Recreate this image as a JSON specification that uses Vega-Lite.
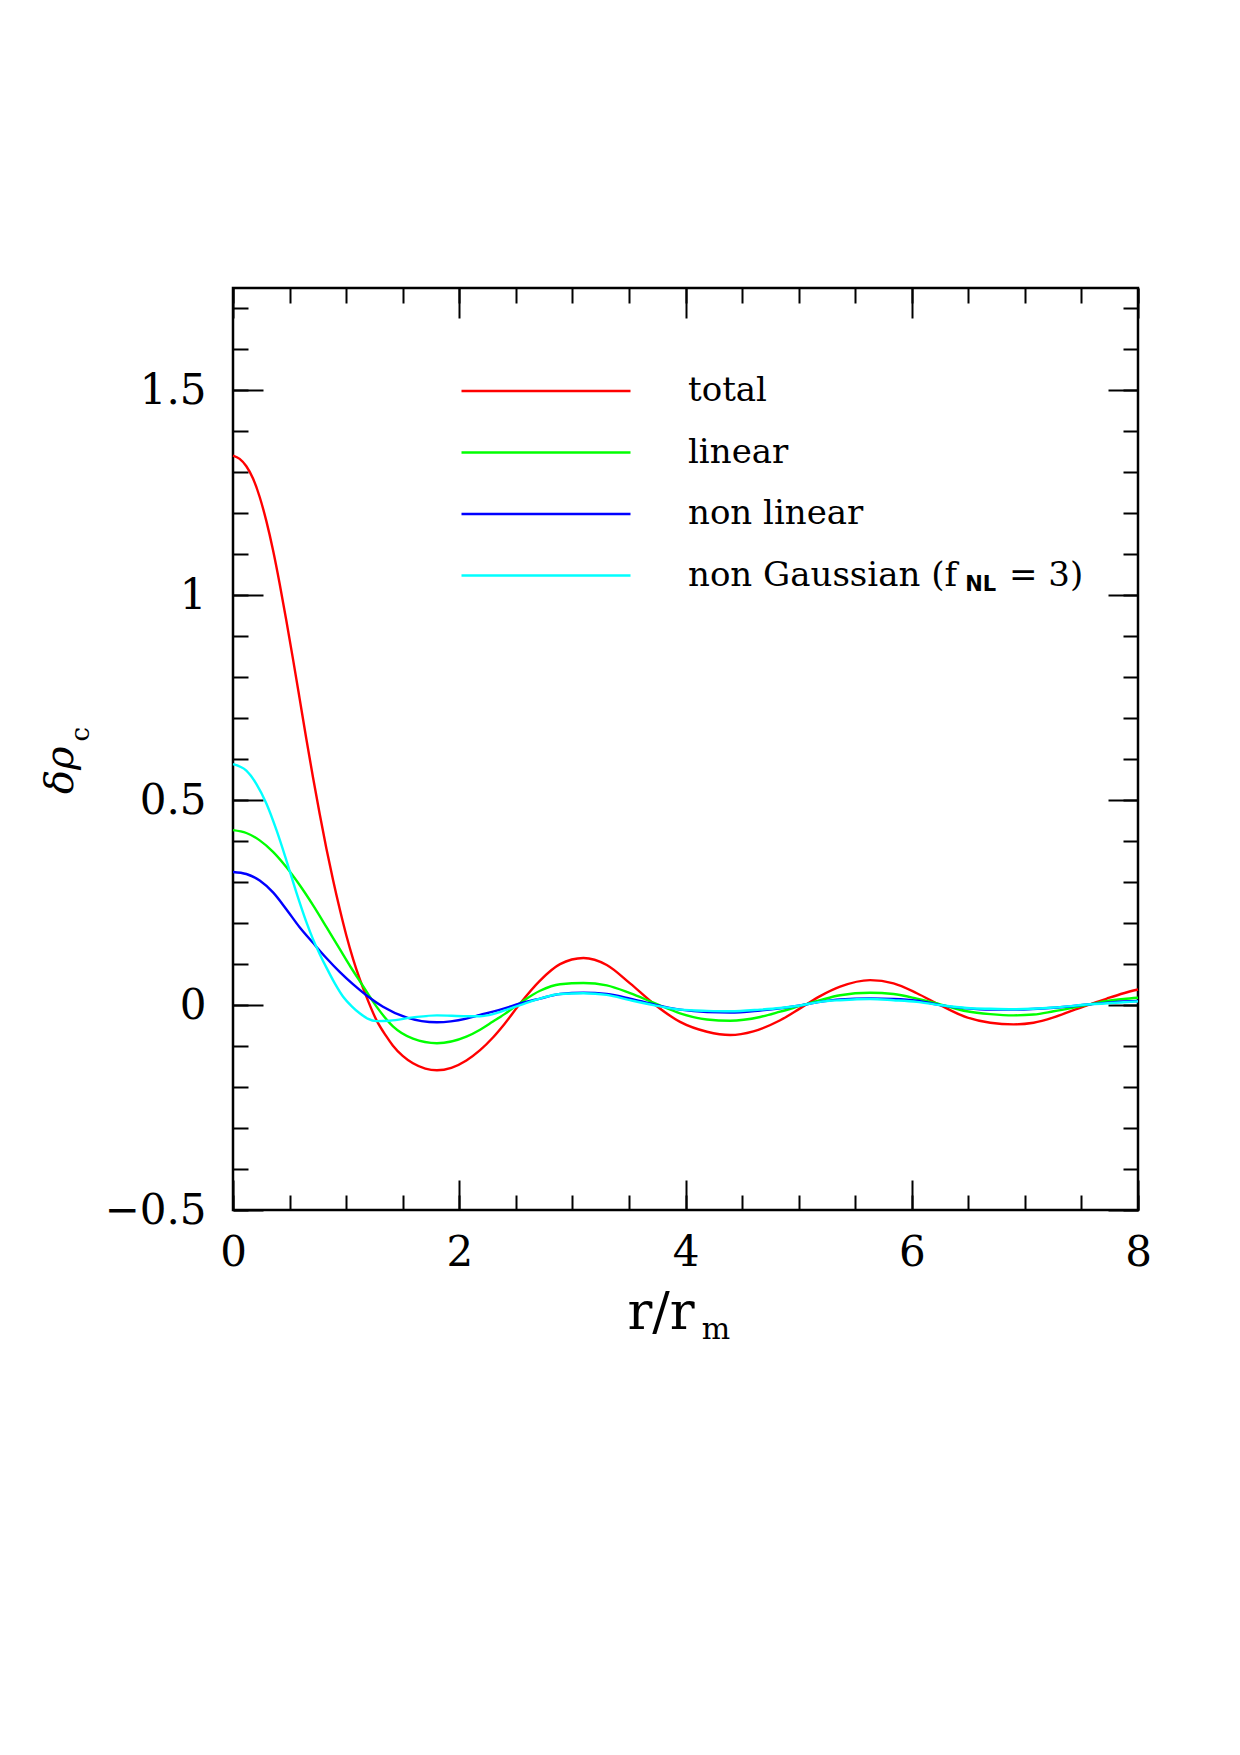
{
  "$schema": "https://vega.github.io/schema/vega-lite/v6.json",
  "width": 905,
  "height": 922,
  "autosize": "none",
  "padding": {"left": 233, "top": 288, "right": 102, "bottom": 545},
  "background": "white",
  "config": {
    "view": {"stroke": "#000", "strokeWidth": 2.5},
    "axis": {"tickColor": "#000", "tickWidth": 2, "labelColor": "#000", "labelFont": "DejaVu Serif", "labelFontSize": 42, "domain": false, "grid": false}
  },
  "resolve": {"axis": {"x": "independent", "y": "independent"}},
  "layer": [
    {
      "data": {"values": [
        {"series": "total", "r": 0, "drho": 1.341}, {"series": "total", "r": 0.059, "drho": 1.333}, {"series": "total", "r": 0.118, "drho": 1.315}, {"series": "total", "r": 0.177, "drho": 1.285}, {"series": "total", "r": 0.236, "drho": 1.24}, {"series": "total", "r": 0.295, "drho": 1.181}, {"series": "total", "r": 0.354, "drho": 1.11}, {"series": "total", "r": 0.412, "drho": 1.029}, {"series": "total", "r": 0.471, "drho": 0.939}, {"series": "total", "r": 0.53, "drho": 0.845}, {"series": "total", "r": 0.589, "drho": 0.748}, {"series": "total", "r": 0.648, "drho": 0.65}, {"series": "total", "r": 0.707, "drho": 0.556}, {"series": "total", "r": 0.766, "drho": 0.467}, {"series": "total", "r": 0.825, "drho": 0.383}, {"series": "total", "r": 0.884, "drho": 0.306}, {"series": "total", "r": 0.943, "drho": 0.235}, {"series": "total", "r": 1.002, "drho": 0.17}, {"series": "total", "r": 1.061, "drho": 0.113}, {"series": "total", "r": 1.12, "drho": 0.064}, {"series": "total", "r": 1.18, "drho": 0.02}, {"series": "total", "r": 1.267, "drho": -0.036}, {"series": "total", "r": 1.35, "drho": -0.074}, {"series": "total", "r": 1.414, "drho": -0.099}, {"series": "total", "r": 1.5, "drho": -0.124}, {"series": "total", "r": 1.591, "drho": -0.142}, {"series": "total", "r": 1.7, "drho": -0.155}, {"series": "total", "r": 1.803, "drho": -0.159}, {"series": "total", "r": 1.93, "drho": -0.153}, {"series": "total", "r": 2.063, "drho": -0.135}, {"series": "total", "r": 2.184, "drho": -0.11}, {"series": "total", "r": 2.298, "drho": -0.079}, {"series": "total", "r": 2.4, "drho": -0.046}, {"series": "total", "r": 2.538, "drho": 0.004}, {"series": "total", "r": 2.714, "drho": 0.06}, {"series": "total", "r": 2.891, "drho": 0.1}, {"series": "total", "r": 3.098, "drho": 0.115}, {"series": "total", "r": 3.304, "drho": 0.098}, {"series": "total", "r": 3.51, "drho": 0.053}, {"series": "total", "r": 3.716, "drho": 0.004}, {"series": "total", "r": 3.952, "drho": -0.041}, {"series": "total", "r": 4.19, "drho": -0.065}, {"series": "total", "r": 4.395, "drho": -0.073}, {"series": "total", "r": 4.6, "drho": -0.064}, {"series": "total", "r": 4.837, "drho": -0.037}, {"series": "total", "r": 5.013, "drho": -0.008}, {"series": "total", "r": 5.19, "drho": 0.022}, {"series": "total", "r": 5.367, "drho": 0.045}, {"series": "total", "r": 5.632, "drho": 0.061}, {"series": "total", "r": 5.839, "drho": 0.053}, {"series": "total", "r": 6.045, "drho": 0.029}, {"series": "total", "r": 6.251, "drho": 0}, {"series": "total", "r": 6.487, "drho": -0.03}, {"series": "total", "r": 6.694, "drho": -0.043}, {"series": "total", "r": 6.9, "drho": -0.047}, {"series": "total", "r": 7.077, "drho": -0.043}, {"series": "total", "r": 7.254, "drho": -0.03}, {"series": "total", "r": 7.43, "drho": -0.012}, {"series": "total", "r": 7.578, "drho": 0.002}, {"series": "total", "r": 7.725, "drho": 0.016}, {"series": "total", "r": 7.873, "drho": 0.029}, {"series": "total", "r": 8, "drho": 0.038},

        {"series": "linear", "r": 0, "drho": 0.427}, {"series": "linear", "r": 0.118, "drho": 0.42}, {"series": "linear", "r": 0.236, "drho": 0.402}, {"series": "linear", "r": 0.354, "drho": 0.374}, {"series": "linear", "r": 0.471, "drho": 0.337}, {"series": "linear", "r": 0.589, "drho": 0.293}, {"series": "linear", "r": 0.707, "drho": 0.244}, {"series": "linear", "r": 0.825, "drho": 0.191}, {"series": "linear", "r": 0.943, "drho": 0.137}, {"series": "linear", "r": 1.04, "drho": 0.093}, {"series": "linear", "r": 1.134, "drho": 0.053}, {"series": "linear", "r": 1.267, "drho": -0.003}, {"series": "linear", "r": 1.414, "drho": -0.052}, {"series": "linear", "r": 1.591, "drho": -0.082}, {"series": "linear", "r": 1.803, "drho": -0.093}, {"series": "linear", "r": 2.063, "drho": -0.077}, {"series": "linear", "r": 2.184, "drho": -0.06}, {"series": "linear", "r": 2.298, "drho": -0.04}, {"series": "linear", "r": 2.4, "drho": -0.022}, {"series": "linear", "r": 2.538, "drho": 0.005}, {"series": "linear", "r": 2.714, "drho": 0.035}, {"series": "linear", "r": 2.891, "drho": 0.051}, {"series": "linear", "r": 3.098, "drho": 0.054}, {"series": "linear", "r": 3.304, "drho": 0.048}, {"series": "linear", "r": 3.51, "drho": 0.029}, {"series": "linear", "r": 3.716, "drho": 0.006}, {"series": "linear", "r": 3.952, "drho": -0.02}, {"series": "linear", "r": 4.19, "drho": -0.035}, {"series": "linear", "r": 4.395, "drho": -0.038}, {"series": "linear", "r": 4.66, "drho": -0.029}, {"series": "linear", "r": 4.837, "drho": -0.016}, {"series": "linear", "r": 5.013, "drho": -0.002}, {"series": "linear", "r": 5.19, "drho": 0.012}, {"series": "linear", "r": 5.367, "drho": 0.024}, {"series": "linear", "r": 5.632, "drho": 0.03}, {"series": "linear", "r": 5.839, "drho": 0.027}, {"series": "linear", "r": 6.045, "drho": 0.016}, {"series": "linear", "r": 6.251, "drho": 0.002}, {"series": "linear", "r": 6.487, "drho": -0.015}, {"series": "linear", "r": 6.694, "drho": -0.022}, {"series": "linear", "r": 6.9, "drho": -0.025}, {"series": "linear", "r": 7.077, "drho": -0.023}, {"series": "linear", "r": 7.254, "drho": -0.015}, {"series": "linear", "r": 7.43, "drho": -0.006}, {"series": "linear", "r": 7.578, "drho": 0.002}, {"series": "linear", "r": 7.725, "drho": 0.01}, {"series": "linear", "r": 7.873, "drho": 0.015}, {"series": "linear", "r": 8, "drho": 0.018},

        {"series": "non linear", "r": 0, "drho": 0.325}, {"series": "non linear", "r": 0.118, "drho": 0.32}, {"series": "non linear", "r": 0.236, "drho": 0.304}, {"series": "non linear", "r": 0.354, "drho": 0.275}, {"series": "non linear", "r": 0.471, "drho": 0.234}, {"series": "non linear", "r": 0.589, "drho": 0.19}, {"series": "non linear", "r": 0.707, "drho": 0.152}, {"series": "non linear", "r": 0.825, "drho": 0.115}, {"series": "non linear", "r": 0.943, "drho": 0.081}, {"series": "non linear", "r": 1.06, "drho": 0.051}, {"series": "non linear", "r": 1.179, "drho": 0.024}, {"series": "non linear", "r": 1.326, "drho": -0.004}, {"series": "non linear", "r": 1.532, "drho": -0.03}, {"series": "non linear", "r": 1.803, "drho": -0.042}, {"series": "non linear", "r": 2.063, "drho": -0.033}, {"series": "non linear", "r": 2.184, "drho": -0.024}, {"series": "non linear", "r": 2.298, "drho": -0.016}, {"series": "non linear", "r": 2.4, "drho": -0.008}, {"series": "non linear", "r": 2.538, "drho": 0.004}, {"series": "non linear", "r": 2.714, "drho": 0.016}, {"series": "non linear", "r": 2.891, "drho": 0.027}, {"series": "non linear", "r": 3.098, "drho": 0.03}, {"series": "non linear", "r": 3.304, "drho": 0.027}, {"series": "non linear", "r": 3.51, "drho": 0.016}, {"series": "non linear", "r": 3.716, "drho": 0.002}, {"series": "non linear", "r": 3.952, "drho": -0.011}, {"series": "non linear", "r": 4.19, "drho": -0.017}, {"series": "non linear", "r": 4.395, "drho": -0.018}, {"series": "non linear", "r": 4.66, "drho": -0.013}, {"series": "non linear", "r": 4.837, "drho": -0.008}, {"series": "non linear", "r": 5.013, "drho": -0.001}, {"series": "non linear", "r": 5.19, "drho": 0.008}, {"series": "non linear", "r": 5.367, "drho": 0.014}, {"series": "non linear", "r": 5.632, "drho": 0.016}, {"series": "non linear", "r": 5.839, "drho": 0.015}, {"series": "non linear", "r": 6.045, "drho": 0.011}, {"series": "non linear", "r": 6.251, "drho": 0}, {"series": "non linear", "r": 6.487, "drho": -0.008}, {"series": "non linear", "r": 6.694, "drho": -0.011}, {"series": "non linear", "r": 6.9, "drho": -0.011}, {"series": "non linear", "r": 7.254, "drho": -0.0065}, {"series": "non linear", "r": 7.578, "drho": 0.002}, {"series": "non linear", "r": 7.873, "drho": 0.009}, {"series": "non linear", "r": 8, "drho": 0.01},

        {"series": "non Gaussian (fNL = 3)", "r": 0, "drho": 0.588}, {"series": "non Gaussian (fNL = 3)", "r": 0.118, "drho": 0.572}, {"series": "non Gaussian (fNL = 3)", "r": 0.206, "drho": 0.54}, {"series": "non Gaussian (fNL = 3)", "r": 0.295, "drho": 0.492}, {"series": "non Gaussian (fNL = 3)", "r": 0.383, "drho": 0.428}, {"series": "non Gaussian (fNL = 3)", "r": 0.471, "drho": 0.354}, {"series": "non Gaussian (fNL = 3)", "r": 0.56, "drho": 0.275}, {"series": "non Gaussian (fNL = 3)", "r": 0.648, "drho": 0.203}, {"series": "non Gaussian (fNL = 3)", "r": 0.707, "drho": 0.161}, {"series": "non Gaussian (fNL = 3)", "r": 0.766, "drho": 0.125}, {"series": "non Gaussian (fNL = 3)", "r": 0.825, "drho": 0.092}, {"series": "non Gaussian (fNL = 3)", "r": 0.9, "drho": 0.053}, {"series": "non Gaussian (fNL = 3)", "r": 0.972, "drho": 0.021}, {"series": "non Gaussian (fNL = 3)", "r": 1.05, "drho": -0.003}, {"series": "non Gaussian (fNL = 3)", "r": 1.12, "drho": -0.02}, {"series": "non Gaussian (fNL = 3)", "r": 1.19, "drho": -0.033}, {"series": "non Gaussian (fNL = 3)", "r": 1.267, "drho": -0.039}, {"series": "non Gaussian (fNL = 3)", "r": 1.385, "drho": -0.038}, {"series": "non Gaussian (fNL = 3)", "r": 1.591, "drho": -0.03}, {"series": "non Gaussian (fNL = 3)", "r": 1.803, "drho": -0.025}, {"series": "non Gaussian (fNL = 3)", "r": 2.063, "drho": -0.027}, {"series": "non Gaussian (fNL = 3)", "r": 2.184, "drho": -0.027}, {"series": "non Gaussian (fNL = 3)", "r": 2.298, "drho": -0.022}, {"series": "non Gaussian (fNL = 3)", "r": 2.4, "drho": -0.013}, {"series": "non Gaussian (fNL = 3)", "r": 2.538, "drho": 0}, {"series": "non Gaussian (fNL = 3)", "r": 2.714, "drho": 0.016}, {"series": "non Gaussian (fNL = 3)", "r": 2.891, "drho": 0.027}, {"series": "non Gaussian (fNL = 3)", "r": 3.098, "drho": 0.029}, {"series": "non Gaussian (fNL = 3)", "r": 3.304, "drho": 0.025}, {"series": "non Gaussian (fNL = 3)", "r": 3.51, "drho": 0.012}, {"series": "non Gaussian (fNL = 3)", "r": 3.716, "drho": 0}, {"series": "non Gaussian (fNL = 3)", "r": 3.952, "drho": -0.011}, {"series": "non Gaussian (fNL = 3)", "r": 4.19, "drho": -0.014}, {"series": "non Gaussian (fNL = 3)", "r": 4.395, "drho": -0.015}, {"series": "non Gaussian (fNL = 3)", "r": 4.66, "drho": -0.011}, {"series": "non Gaussian (fNL = 3)", "r": 4.837, "drho": -0.007}, {"series": "non Gaussian (fNL = 3)", "r": 5.013, "drho": -0.001}, {"series": "non Gaussian (fNL = 3)", "r": 5.19, "drho": 0.008}, {"series": "non Gaussian (fNL = 3)", "r": 5.367, "drho": 0.012}, {"series": "non Gaussian (fNL = 3)", "r": 5.632, "drho": 0.015}, {"series": "non Gaussian (fNL = 3)", "r": 5.839, "drho": 0.012}, {"series": "non Gaussian (fNL = 3)", "r": 6.045, "drho": 0.008}, {"series": "non Gaussian (fNL = 3)", "r": 6.251, "drho": 0}, {"series": "non Gaussian (fNL = 3)", "r": 6.487, "drho": -0.007}, {"series": "non Gaussian (fNL = 3)", "r": 6.694, "drho": -0.009}, {"series": "non Gaussian (fNL = 3)", "r": 6.9, "drho": -0.01}, {"series": "non Gaussian (fNL = 3)", "r": 7.254, "drho": -0.006}, {"series": "non Gaussian (fNL = 3)", "r": 7.578, "drho": 0.002}, {"series": "non Gaussian (fNL = 3)", "r": 7.873, "drho": 0.007}, {"series": "non Gaussian (fNL = 3)", "r": 8, "drho": 0.009}
      ]},
      "mark": {"type": "line", "interpolate": "monotone", "strokeWidth": 2.4},
      "encoding": {
        "x": {"field": "r", "type": "quantitative", "scale": {"domain": [0, 8], "nice": false, "zero": false},
              "axis": {"orient": "bottom", "title": null, "values": [0, 2, 4, 6, 8], "tickSize": -30, "labelPadding": 52, "format": "~g", "labelFlush": false}},
        "y": {"field": "drho", "type": "quantitative", "scale": {"domain": [-0.5, 1.75], "nice": false, "zero": false},
              "axis": {"orient": "left", "title": null, "values": [-0.5, 0, 0.5, 1, 1.5], "tickSize": -30, "labelPadding": 57, "format": "~g", "labelFlush": false}},
        "color": {"field": "series", "type": "nominal", "sort": null,
                  "scale": {"domain": ["total", "linear", "non linear", "non Gaussian (fNL = 3)"], "range": ["#ff0000", "#00ff00", "#0000ff", "#00ffff"]},
                  "legend": {"orient": "none", "legendX": 227, "legendY": 83, "title": null, "padding": 0,
                             "symbolType": "stroke", "symbolSize": 28561, "symbolStrokeWidth": 2.4, "clipHeight": 40, "rowPadding": 21.5,
                             "labelFont": "DejaVu Serif", "labelFontSize": 34, "labelColor": "#000", "labelOffset": 56, "labelLimit": 800,
                             "labelExpr": "replace(datum.label, 'NL = 3)', '')"}}
      }
    },
    {
      "data": {"values": [{}]},
      "mark": {"type": "text", "font": "DejaVu Sans", "fontWeight": "bold", "fontSize": 21, "align": "center", "baseline": "alphabetic", "color": "#000"},
      "encoding": {
        "text": {"value": "NL"},
        "x": {"datum": 6.61, "type": "quantitative", "scale": {"domain": [0, 8], "nice": false, "zero": false},
              "axis": {"orient": "bottom", "title": null, "labels": false, "tickSize": -15, "values": [0, 0.5, 1, 1.5, 2, 2.5, 3, 3.5, 4, 4.5, 5, 5.5, 6, 6.5, 7, 7.5, 8]}},
        "y": {"datum": 1.01, "type": "quantitative", "scale": {"domain": [-0.5, 1.75], "nice": false, "zero": false},
              "axis": {"orient": "left", "title": null, "labels": false, "tickSize": -15, "values": [-0.5, -0.4, -0.3, -0.2, -0.1, 0, 0.1, 0.2, 0.3, 0.4, 0.5, 0.6, 0.7, 0.8, 0.9, 1, 1.1, 1.2, 1.3, 1.4, 1.5, 1.6, 1.7]}}
      }
    },
    {
      "data": {"values": [{}]},
      "mark": {"type": "text", "font": "DejaVu Serif", "fontSize": 34, "align": "left", "baseline": "middle", "color": "#000"},
      "encoding": {
        "text": {"value": "= 3)"},
        "x": {"datum": 6.86, "type": "quantitative", "scale": {"domain": [0, 8], "nice": false, "zero": false}, "axis": null},
        "y": {"datum": 1.0476, "type": "quantitative", "scale": {"domain": [-0.5, 1.75], "nice": false, "zero": false}, "axis": null}
      }
    },
    {
      "data": {"values": [{}]},
      "mark": {"type": "text", "font": "DejaVu Serif", "fontSize": 52, "align": "center", "baseline": "alphabetic", "color": "#000"},
      "encoding": {
        "text": {"value": "r/r"},
        "x": {"datum": 3.784, "type": "quantitative", "scale": {"domain": [0, 8], "nice": false, "zero": false},
              "axis": {"orient": "top", "title": null, "labels": false, "tickSize": -30, "values": [0, 2, 4, 6, 8]}},
        "y": {"datum": -0.79, "type": "quantitative", "scale": {"domain": [-0.5, 1.75], "nice": false, "zero": false},
              "axis": {"orient": "right", "title": null, "labels": false, "tickSize": -30, "values": [-0.5, 0, 0.5, 1, 1.5]}}
      }
    },
    {
      "data": {"values": [{}]},
      "mark": {"type": "text", "font": "DejaVu Serif", "fontSize": 30, "align": "center", "baseline": "alphabetic", "color": "#000"},
      "encoding": {
        "text": {"value": "m"},
        "x": {"datum": 4.27, "type": "quantitative", "scale": {"domain": [0, 8], "nice": false, "zero": false},
              "axis": {"orient": "top", "title": null, "labels": false, "tickSize": -15, "values": [0, 0.5, 1, 1.5, 2, 2.5, 3, 3.5, 4, 4.5, 5, 5.5, 6, 6.5, 7, 7.5, 8]}},
        "y": {"datum": -0.815, "type": "quantitative", "scale": {"domain": [-0.5, 1.75], "nice": false, "zero": false},
              "axis": {"orient": "right", "title": null, "labels": false, "tickSize": -15, "values": [-0.5, -0.4, -0.3, -0.2, -0.1, 0, 0.1, 0.2, 0.3, 0.4, 0.5, 0.6, 0.7, 0.8, 0.9, 1, 1.1, 1.2, 1.3, 1.4, 1.5, 1.6, 1.7]}}
      }
    },
    {
      "data": {"values": [{}]},
      "mark": {"type": "text", "font": "DejaVu Serif", "fontStyle": "italic", "fontSize": 40, "angle": 270, "align": "center", "baseline": "alphabetic", "color": "#000"},
      "encoding": {
        "text": {"value": "δρ"},
        "x": {"datum": -1.415, "type": "quantitative", "scale": {"domain": [0, 8], "nice": false, "zero": false}, "axis": null},
        "y": {"datum": 0.573, "type": "quantitative", "scale": {"domain": [-0.5, 1.75], "nice": false, "zero": false}, "axis": null}
      }
    },
    {
      "data": {"values": [{}]},
      "mark": {"type": "text", "font": "DejaVu Serif", "fontSize": 26, "angle": 270, "align": "center", "baseline": "alphabetic", "color": "#000"},
      "encoding": {
        "text": {"value": "c"},
        "x": {"datum": -1.273, "type": "quantitative", "scale": {"domain": [0, 8], "nice": false, "zero": false}, "axis": null},
        "y": {"datum": 0.661, "type": "quantitative", "scale": {"domain": [-0.5, 1.75], "nice": false, "zero": false}, "axis": null}
      }
    }
  ]
}
